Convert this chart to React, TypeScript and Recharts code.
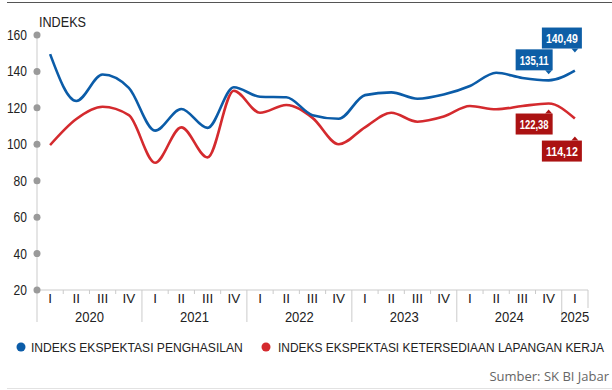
import React from 'react';
import { LineChart, Line, XAxis, YAxis, LabelList } from 'recharts';

const years = ['2020', '2021', '2022', '2023', '2024', '2025'];
const quartersPerYear = [4, 4, 4, 4, 4, 1];
const romans = ['I', 'II', 'III', 'IV'];
const yTicks = [20, 40, 60, 80, 100, 120, 140, 160];

// Indeks Ekspektasi Penghasilan
const penghasilan = [
  149.5, 123.8, 138.3, 131.0, 107.5, 119.4, 109.0, 131.3, 126.1, 125.8, 116.0,
  114.0, 127.0, 128.5, 125.0, 127.3, 132.0, 139.3, 136.4, 135.11, 140.49,
];
// Indeks Ekspektasi Ketersediaan Lapangan Kerja
const lapangan = [
  99.6, 113.9, 120.6, 116.0, 89.9, 109.3, 92.8, 129.4, 117.3, 121.6, 114.5,
  100.0, 109.3, 117.3, 112.4, 115.2, 121.0, 119.2, 121.0, 122.38, 114.12,
];
const calloutIdx = [19, 20];

const BLUE = '#0b5ca8';
const RED = '#d42a2e';
const BLUE_BOX = '#0d5ea6';
const RED_BOX = '#ab1212';
const FONT = '"Liberation Sans", Arial, sans-serif';

const data: any[] = [];
years.forEach((yr, yi) => {
  for (let q = 0; q < quartersPerYear[yi]; q++) {
    const i = data.length;
    data.push({
      key: `${yr}-${romans[q]}`,
      year: yr,
      q: romans[q],
      nq: quartersPerYear[yi],
      penghasilan: penghasilan[i],
      lapangan: lapangan[i],
    });
  }
});

const W = 612;
const M = { top: 35, right: 24, left: 0, bottom: 0 };
const Y_W = 37;
const BW = (W - M.right - Y_W) / data.length;
const GRAY = '#cbcbcb';

const XTick = (props: any) => {
  const { x, y, index } = props;
  const d = data[index];
  if (!d) return null;
  const left = x - BW / 2;
  const last = index === data.length - 1;
  return (
    <g>
      <line x1={left} x2={left} y1={y} y2={d.q === 'I' ? y + 32 : y + 4} stroke={GRAY} />
      {last && <line x1={x + BW / 2} x2={x + BW / 2} y1={y} y2={y + 18} stroke={GRAY} />}
      <text x={x} y={y + 13} textAnchor="middle" fontSize={13.5} fill="#222" fontFamily={FONT}>
        {d.q}
      </text>
      {d.q === 'I' && (
        <text
          x={left + (d.nq * BW) / 2}
          y={y + 32}
          textAnchor="middle"
          fontSize={15}
          fill="#222"
          fontFamily={FONT}
          textLength={29}
          lengthAdjust="spacingAndGlyphs"
        >
          {d.year}
        </text>
      )}
    </g>
  );
};

const YTick = (props: any) => {
  const { x, y, payload } = props;
  const s = String(payload.value);
  return (
    <g>
      <text
        x={x - 10}
        y={y + 5}
        textAnchor="end"
        fontSize={14}
        fill="#222"
        fontFamily={FONT}
        textLength={s.length * 6.7}
        lengthAdjust="spacingAndGlyphs"
      >
        {s}
      </text>
      <circle cx={x} cy={y} r={3.5} fill="#9a9a9a" />
    </g>
  );
};

const makeCallout = (fill: string, above: boolean) => (props: any) => {
  const { x, y, index, value } = props;
  if (!calloutIdx.includes(index)) return null;
  const far = index === data.length - 1;
  const gap = far ? 22 : 10;
  const h = 21;
  const w = far ? 40 : 37;
  const bx = x - 33;
  const by = above ? y - gap - h : y + gap;
  const edge = above ? y - gap : y + gap;
  const tip = above ? edge + 4 : edge - 4;
  const txt = Number(value).toFixed(2).replace('.', ',');
  return (
    <g>
      <rect x={bx} y={by} width={w} height={h} fill={fill} />
      <path d={`M${x - 3.5},${edge} L${x + 3.5},${edge} L${x},${tip} Z`} fill={fill} />
      <text
        x={bx + w / 2}
        y={by + 15.5}
        textAnchor="middle"
        fontSize={13.5}
        fontWeight="bold"
        fill="#fff"
        fontFamily={FONT}
        textLength={w - 8}
        lengthAdjust="spacingAndGlyphs"
      >
        {txt}
      </text>
    </g>
  );
};

export default function App() {
  return (
    <div style={{ position: 'fixed', left: 0, top: 0, width: W, height: 390, background: '#fff', fontFamily: FONT, overflow: 'hidden' }}>
      <div style={{ position: 'absolute', left: 7, right: 0, top: 2, borderTop: '1.5px solid #555' }} />
      <svg style={{ position: 'absolute', left: 0, top: 0 }} width={W} height={30}>
        <text x={39} y={27} fontSize={14.5} fill="#222" fontFamily={FONT} textLength={47} lengthAdjust="spacingAndGlyphs">
          INDEKS
        </text>
      </svg>
      <LineChart width={W} height={330} data={data} margin={M}>
        <XAxis
          dataKey="key"
          interval={0}
          tickLine={false}
          tickSize={0}
          tickMargin={0}
          height={40}
          padding={{ left: BW / 2, right: BW / 2 }}
          axisLine={{ stroke: GRAY }}
          tick={<XTick />}
        />
        <YAxis
          domain={[20, 160]}
          ticks={yTicks}
          width={Y_W}
          tickLine={false}
          tickSize={0}
          tickMargin={0}
          axisLine={{ stroke: GRAY }}
          tick={<YTick />}
        />
        <Line type="monotone" dataKey="lapangan" stroke={RED} strokeWidth={2.6} dot={false} isAnimationActive={false}>
          <LabelList dataKey="lapangan" content={makeCallout(RED_BOX, false)} />
        </Line>
        <Line type="monotone" dataKey="penghasilan" stroke={BLUE} strokeWidth={2.6} dot={false} isAnimationActive={false}>
          <LabelList dataKey="penghasilan" content={makeCallout(BLUE_BOX, true)} />
        </Line>
      </LineChart>
      <svg style={{ position: 'absolute', left: 0, top: 330 }} width={W} height={30}>
        <circle cx={21} cy={17} r={4.5} fill={BLUE} />
        <text transform="translate(31,22) scale(0.895,1)" fontSize={13.5} fill="#222" fontFamily={FONT}>
          INDEKS EKSPEKTASI PENGHASILAN
        </text>
        <circle cx={266} cy={17} r={4.5} fill={RED} />
        <text transform="translate(278,22) scale(0.885,1)" fontSize={13.5} fill="#222" fontFamily={FONT}>
          INDEKS EKSPEKTASI KETERSEDIAAN LAPANGAN KERJA
        </text>
      </svg>
      <div style={{ position: 'absolute', right: 3, top: 367, fontSize: 13, color: '#666', fontFamily: '"Open Sans", sans-serif' }}>
        Sumber: SK BI Jabar
      </div>
      <div style={{ position: 'absolute', left: 7, right: 0, top: 388, borderTop: '1px solid #e2e2e2' }} />
    </div>
  );
}
